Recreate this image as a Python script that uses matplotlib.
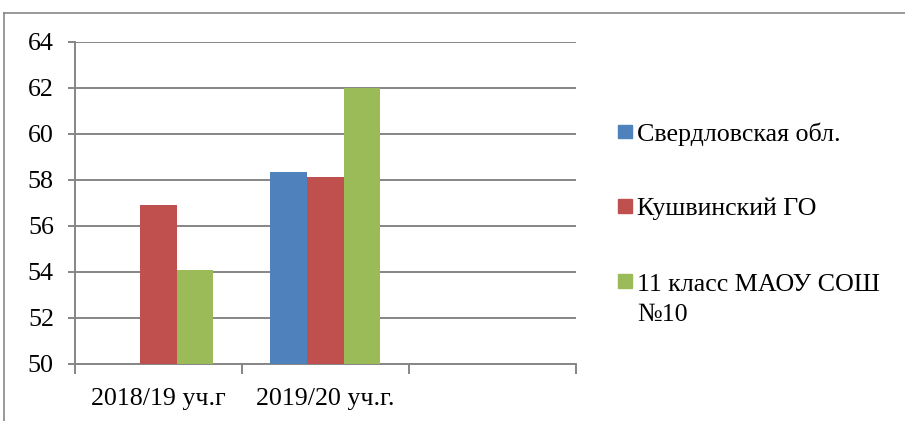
import numpy as np
import matplotlib
matplotlib.use("Agg")
import matplotlib.pyplot as plt
from matplotlib.lines import Line2D
from matplotlib.patches import Rectangle
from matplotlib import font_manager as fm

categories = ["2018/19 уч.г", "2019/20 уч.г.", ""]
series_names = ["Свердловская обл.", "Кушвинский ГО", "11 класс МАОУ СОШ\n№10"]
sverdl = [np.nan, 58.35, np.nan]
kushva = [56.9, 58.15, np.nan]
school = [54.1, 62.0, np.nan]
colors = ["#4F81BD", "#C0504D", "#9BBB59"]
yticks = [50, 52, 54, 56, 58, 60, 62, 64]

plt.rcParams['font.family'] = 'serif'
plt.rcParams['font.serif'] = ['Liberation Serif', 'DejaVu Serif']
FS = 18.7
fp = fm.FontProperties(family='Liberation Serif', size=FS)

W, H = 905, 421
fig = plt.figure(figsize=(W / 100, H / 100), dpi=100)
ax = fig.add_axes([74.7 / W, 1 - 364 / H, (576 - 74.7) / W, (364 - 42) / H])

x = np.arange(len(categories))
bw = 0.22
for i, (vals, c) in enumerate(zip([sverdl, kushva, school], colors)):
    ax.bar(x + (i - 1) * bw, vals, width=bw, color=c, zorder=3, linewidth=0)

ax.set_xlim(-0.5, len(categories) - 0.5)
ax.set_ylim(50, 64)
ax.set_yticks(yticks)
ax.set_yticklabels([str(v) for v in yticks], fontproperties=fp)
ax.yaxis.grid(True, color="#868686", linewidth=1.4, zorder=0)
ax.set_axisbelow(True)

ax.set_xticks(x)
ax.set_xticklabels(categories, fontproperties=fp)
ax.set_xticks(np.arange(len(categories) + 1) - 0.5, minor=True)
ax.tick_params(axis='x', which='major', length=0, pad=17)
ax.tick_params(axis='x', which='minor', length=7, width=1.4, color="#868686", direction='out')
ax.tick_params(axis='y', length=5, width=1.4, color="#868686", pad=10)

for s in ['top', 'right']:
    ax.spines[s].set_visible(False)
for s in ['left', 'bottom']:
    ax.spines[s].set_color("#868686")
    ax.spines[s].set_linewidth(1.4)

# legend drawn manually (baseline = baseline of the last line of each label)
sq = 13.5
leg_centers = [131.5, 206, 281]
leg_baselines = [141.5, 215, 320.7]
for name, c, yc, yb in zip(series_names, colors, leg_centers, leg_baselines):
    fig.patches.append(Rectangle((618 / W, 1 - (yc + sq / 2) / H), sq / W, sq / H,
                                 transform=fig.transFigure, color=c, figure=fig))
    fig.text(637 / W, 1 - yb / H, name, fontproperties=fp, va='baseline', ha='left',
             linespacing=1.45)

# outer frame
fig.add_artist(Line2D([4 / W, 1], [1 - 13 / H, 1 - 13 / H], transform=fig.transFigure,
                      color="#888888", linewidth=1.2))
fig.add_artist(Line2D([4 / W, 4 / W], [0, 1 - 13 / H], transform=fig.transFigure,
                      color="#888888", linewidth=1.2))

fig.savefig("out.png", dpi=100)
